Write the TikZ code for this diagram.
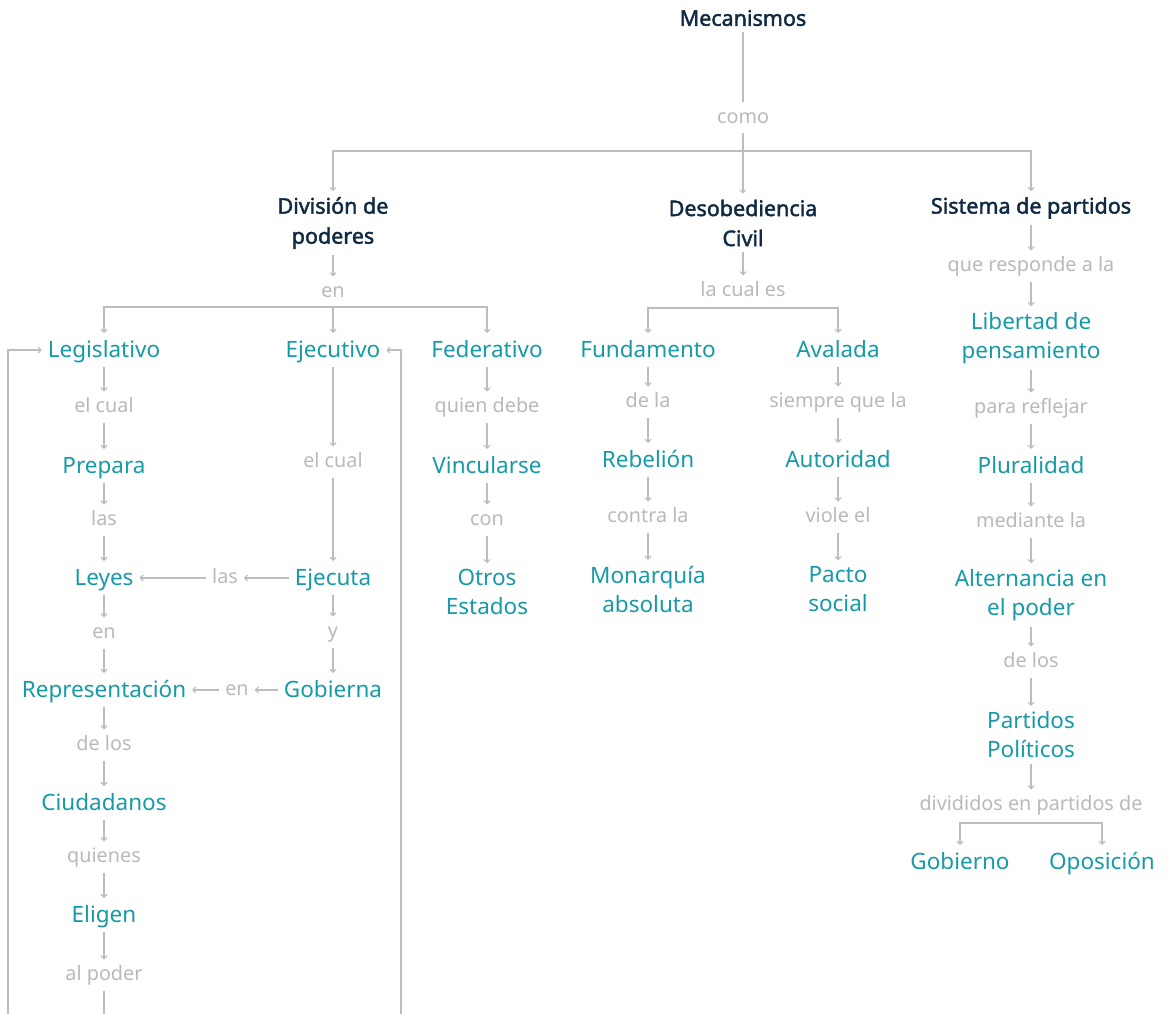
\documentclass[tikz,border=0pt]{standalone}
\usepackage{fontspec}
\setmainfont{Noto Sans}
\newfontfamily\hdfont[FakeBold=2]{Noto Sans}
\usetikzlibrary{arrows.meta}
\definecolor{tealc}{RGB}{22,154,166}
\definecolor{navyc}{RGB}{16,42,67}
\definecolor{labc}{RGB}{185,185,189}
\definecolor{linec}{RGB}{188,188,194}
\begin{document}
\begin{tikzpicture}[x=1pt,y=-1pt,
  every node/.style={inner sep=0pt,outer sep=0pt},
  hd/.style={font=\hdfont\fontsize{21.5}{30}\selectfont,text=navyc,align=center,inner sep=6pt},
  cn/.style={font=\fontsize{22.5}{29}\selectfont,text=tealc,inner sep=6pt,text height=18pt,text depth=4pt},
  cnm/.style={font=\fontsize{22.5}{29}\selectfont,text=tealc,align=center,inner sep=6pt},
  lb/.style={font=\fontsize{19.8}{24}\selectfont,text=labc,inner sep=6pt,text height=15pt,text depth=4pt},
  ln/.style={draw=linec,line width=1.1pt},
  arr/.style={ln,-{Straight Barb[length=3pt,width=6pt]}}]
\useasboundingbox (0,0) rectangle (1171,1014);

% top
\node[hd] (mec) at (743,18) {Mecanismos};
\node[lb] (como) at (743,118) {como};
\node[hd] (div) at (333,223) {División de\\poderes};
\node[hd] (des) at (743,223) {Desobediencia\\Civil};
\node[hd] (sis) at (1031,208) {Sistema de partidos};
\coordinate (b1) at (743,151);
\draw[ln] (mec) -- (como);
\draw[arr] (como) -- (des);
\draw[arr] (b1) -| (div);
\draw[arr] (b1) -| (sis);

% Division de poderes
\node[lb] (en1) at (333,292) {en};
\coordinate (b2) at (333,307);
\node[cn] (leg) at (104,350) {Legislativo};
\node[cn] (eje) at (333,350) {Ejecutivo};
\node[cn] (fed) at (487,350) {Federativo};
\draw[arr] (div) -- (en1);
\draw[arr] (b2) -- (eje);
\draw[arr] (b2) -| (leg);
\draw[arr] (b2) -| (fed);

% Legislativo chain
\node[lb] (elcual1) at (104,407) {el cual};
\node[cn] (prepara) at (104,466) {Prepara};
\node[lb] (las1) at (104,520) {las};
\node[cn] (leyes) at (104,578) {Leyes};
\node[lb] (en2) at (104,633) {en};
\node[cn] (repr) at (104,690) {Representación};
\node[lb] (delos1) at (104,745) {de los};
\node[cn] (ciud) at (104,803) {Ciudadanos};
\node[lb] (quienes) at (104,857) {quienes};
\node[cn] (eligen) at (104,915) {Eligen};
\node[lb] (alpoder) at (104,975) {al poder};
\coordinate (bot1) at (104,1014);
\coordinate (bl) at (8,1014);
\coordinate (br) at (401,1014);
\draw[arr] (leg) -- (elcual1);
\draw[arr] (elcual1) -- (prepara);
\draw[arr] (prepara) -- (las1);
\draw[arr] (las1) -- (leyes);
\draw[arr] (leyes) -- (en2);
\draw[arr] (en2) -- (repr);
\draw[arr] (repr) -- (delos1);
\draw[arr] (delos1) -- (ciud);
\draw[arr] (ciud) -- (quienes);
\draw[arr] (quienes) -- (eligen);
\draw[arr] (eligen) -- (alpoder);
\draw[ln] (alpoder) -- (bot1);
\draw[arr] (bl) |- (leg);
\draw[arr] (br) |- (eje);

% Ejecutivo chain
\node[lb] (elcual2) at (333,462) {el cual};
\node[cn] (ejecuta) at (333,578) {Ejecuta};
\node[lb] (y1) at (333,632) {y};
\node[cn] (gob1) at (333,690) {Gobierna};
\node[lb] (las2) at (225,578) {las};
\node[lb] (en3) at (237,690) {en};
\draw[arr] (eje) -- (elcual2);
\draw[arr] (elcual2) -- (ejecuta);
\draw[arr] (ejecuta) -- (y1);
\draw[arr] (y1) -- (gob1);
\draw[arr] (ejecuta) -- (las2);
\draw[arr] (las2) -- (leyes);
\draw[arr] (gob1) -- (en3);
\draw[arr] (en3) -- (repr);

% Federativo chain
\node[lb] (quien) at (487,407) {quien debe};
\node[cn] (vinc) at (487,466) {Vincularse};
\node[lb] (con) at (487,520) {con};
\node[cnm] (otros) at (487,592) {Otros\\Estados};
\draw[arr] (fed) -- (quien);
\draw[arr] (quien) -- (vinc);
\draw[arr] (vinc) -- (con);
\draw[arr] (con) -- (otros);

% Desobediencia civil
\node[lb] (lacual) at (743,291) {la cual es};
\coordinate (b3) at (743,308);
\node[cn] (fund) at (648,350) {Fundamento};
\node[cn] (aval) at (838,350) {Avalada};
\draw[arr] (des) -- (lacual);
\draw[arr] (b3) -| (fund);
\draw[arr] (b3) -| (aval);
\node[lb] (dela) at (648,402) {de la};
\node[cn] (rebel) at (648,460) {Rebelión};
\node[lb] (contra) at (648,517) {contra la};
\node[cnm] (monar) at (648,589) {Monarquía\\absoluta};
\draw[arr] (fund) -- (dela);
\draw[arr] (dela) -- (rebel);
\draw[arr] (rebel) -- (contra);
\draw[arr] (contra) -- (monar);
\node[lb] (siempre) at (838,402) {siempre que la};
\node[cn] (autor) at (838,460) {Autoridad};
\node[lb] (viole) at (838,517) {viole el};
\node[cnm] (pacto) at (838,589) {Pacto\\social};
\draw[arr] (aval) -- (siempre);
\draw[arr] (siempre) -- (autor);
\draw[arr] (autor) -- (viole);
\draw[arr] (viole) -- (pacto);

% Sistema de partidos
\node[lb] (qresp) at (1031,266) {que responde a la};
\node[cnm] (lib) at (1031,338) {Libertad de\\pensamiento};
\node[lb] (para) at (1031,408) {para reflejar};
\node[cn] (plur) at (1031,466) {Pluralidad};
\node[lb] (mediante) at (1031,522) {mediante la};
\node[cnm] (alter) at (1031,595) {Alternancia en\\el poder};
\node[lb] (delos2) at (1031,662) {de los};
\node[cnm] (partidos) at (1031,735) {Partidos\\Políticos};
\node[lb] (divid) at (1031,805) {divididos en partidos de};
\coordinate (b4) at (1031,823);
\node[cn] (gob2) at (960,862) {Gobierno};
\node[cn] (opo) at (1102,862) {Oposición};
\draw[arr] (sis) -- (qresp);
\draw[arr] (qresp) -- (lib);
\draw[arr] (lib) -- (para);
\draw[arr] (para) -- (plur);
\draw[arr] (plur) -- (mediante);
\draw[arr] (mediante) -- (alter);
\draw[arr] (alter) -- (delos2);
\draw[arr] (delos2) -- (partidos);
\draw[arr] (partidos) -- (divid);
\draw[arr] (b4) -| (gob2);
\draw[arr] (b4) -| (opo);
\end{tikzpicture}
\end{document}
